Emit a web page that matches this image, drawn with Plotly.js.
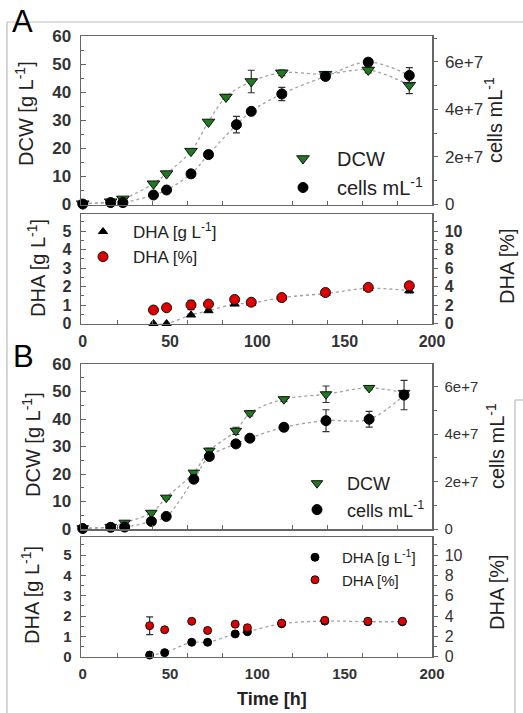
<!DOCTYPE html>
<html><head><meta charset="utf-8">
<script src="https://cdn.plot.ly/plotly-3.0.1.min.js"></script>
<style>html,body{margin:0;padding:0;background:#fff}#chart{width:523px;height:713px}</style>
</head><body><div id="chart"></div>
<script>
// ---------- DATA ----------
// Panel A, upper: DCW [g/L] and cells/mL vs time [h]
const tDcwA   = [0, 16, 23, 40.5, 48, 62, 72, 82, 96.5, 114, 139, 163.5, 187];
const dcwA    = [0.3, 1.0, 2.0, 7.4, 11.0, 19.0, 29.4, 38.3, 43.8, 46.9, 46.4, 47.9, 42.5];
const dcwErrA = [0.3, 0.5, 0.5, 0.5, 0.5, 0.5, 0.6, 0.8, 4.0, 1.0, 0.8, 1.0, 3.0];
const tCellsA   = [0, 16, 23, 40.5, 48, 62, 72, 88, 96.5, 114, 139, 163.5, 187];
const cellsA    = [0.2e6, 0.8e6, 0.8e6, 4.0e6, 6.1e6, 12.9e6, 21.0e6, 33.6e6, 39.2e6, 46.5e6, 53.9e6, 59.9e6, 54.3e6];
const cellsErrA = [0, 0.5e6, 0.5e6, 0.5e6, 0.5e6, 0.5e6, 0.5e6, 3.5e6, 1.0e6, 2.8e6, 1.0e6, 1.5e6, 3.3e6];
// Panel A, lower: DHA [g/L] and DHA [%]
const tDhaA     = [40.5, 48, 62, 72, 87, 96.5, 114, 139, 163.5, 187];
const dhaGA     = [0.0, 0.0, 0.46, 0.69, 1.05, 1.1, 1.4, 1.62, 1.9, 1.77];
const dhaGErrA  = [0, 0, 0.05, 0.05, 0.05, 0.05, 0.05, 0.05, 0.05, 0.12];
const dhaPA     = [1.46, 1.7, 2.0, 2.1, 2.6, 2.3, 2.8, 3.35, 3.9, 4.08];
const dhaPErrA  = [0.1, 0.1, 0.5, 0.2, 0.25, 0.25, 0.1, 0.1, 0.1, 0.15];
// Panel B, upper
const tB        = [0, 16, 24, 39.3, 47.8, 63.6, 72.5, 87.7, 95.7, 115.2, 139.3, 164, 184];
const dcwB      = [0.3, 0.8, 2.3, 5.9, 11.4, 20.5, 28.5, 35.7, 42.1, 47.2, 49.0, 51.3, 49.5];
const dcwErrB   = [0.3, 0.3, 0.5, 0.5, 0.5, 0.6, 0.8, 1.3, 1.0, 0.8, 3.0, 0.6, 0.8];
const cellsB    = [0.2e6, 0.7e6, 0.8e6, 3.2e6, 5.3e6, 21.0e6, 30.6e6, 35.9e6, 38.3e6, 42.9e6, 45.7e6, 46.3e6, 56.5e6];
const cellsErrB = [0, 0.3e6, 0.3e6, 0.5e6, 0.5e6, 0.5e6, 0.8e6, 0.8e6, 1.0e6, 1.5e6, 4.6e6, 3.3e6, 6.2e6];
// Panel B, lower
const tDhaB     = [38.3, 46.9, 62.4, 71.5, 87.3, 94.3, 113.9, 138.6, 163.3, 183];
const dhaGB     = [0.08, 0.2, 0.71, 0.71, 1.12, 1.23, 1.62, 1.75, 1.72, 1.72];
const dhaPB     = [3.05, 2.65, 3.48, 2.58, 3.2, 2.85, 3.3, 3.58, 3.48, 3.48];
const dhaPErrB  = [0.87, 0.05, 0.05, 0.05, 0.05, 0.05, 0.1, 0.1, 0.05, 0.05];
// Tick labels
const cellTickVals = [0, 2e7, 4e7, 6e7];
const cellTickText = ['0', '2e+7', '4e+7', '6e+7'];

// ---------- LAYOUT HELPERS ----------
const W = 523, H = 713;
const px = x => x / W, py = y => 1 - y / H;
const FONT = 'Liberation Sans, Arial, sans-serif';
const AX = '#666', TXT = '#333';
const xDom = [px(81), px(432)];

function xAxis(anchor, showLabels, size) {
  return {domain: xDom, anchor, range: [-1, 200], showline: true, linecolor: AX, linewidth: 1.5,
    mirror: true, ticks: '', dtick: 50, showticklabels: showLabels, ticklabelstandoff: 3,
    tickfont: {family: FONT, size, color: TXT, weight: 'bold'},
    minor: {dtick: 20, ticks: 'inside', ticklen: 4, tickcolor: AX, tickwidth: 1},
    showgrid: false, zeroline: false, fixedrange: true};
}
function yLeft(anchor, dom, range, dtick, mdtick, size) {
  return {domain: dom, anchor, range, dtick, showline: true, linecolor: AX, linewidth: 1.5, mirror: true,
    ticks: 'inside', ticklen: 5, tickcolor: AX, ticklabelstandoff: 5,
    minor: {dtick: mdtick, ticks: 'inside', ticklen: 3, tickcolor: AX},
    tickfont: {family: FONT, size, color: TXT, weight: 'bold'},
    showgrid: false, zeroline: false, fixedrange: true};
}
function yRight(anchor, over, range, extra, size, bold) {
  return Object.assign({overlaying: over, anchor, side: 'right', range, showline: true, linecolor: AX,
    linewidth: 1.5, ticks: 'outside', ticklen: 4, tickcolor: AX, ticklabelstandoff: 4,
    tickfont: {family: FONT, size, color: TXT, weight: bold ? 'bold' : 'normal'},
    showgrid: false, zeroline: false, fixedrange: true}, extra);
}

const domAtop = [py(204.5), py(36)];
const domAbot = [py(323.5), py(214)];
const domBtop = [py(529), py(364)];
const domBbot = [py(656.7), py(537)];

const fitLine = {color: '#a3a3a3', width: 1.3, dash: 'dot', shape: 'spline', smoothing: 1};
const errSty = (arr) => ({type: 'data', array: arr, visible: true, color: '#333', thickness: 1.2, width: 3.5});
const green = '#1f7a1f';

const traces = [
  // ---- A upper ----
  {x: tDcwA, y: dcwA, mode: 'lines', line: fitLine, xaxis: 'x', yaxis: 'y', showlegend: false, hoverinfo: 'skip'},
  {x: tCellsA, y: cellsA, mode: 'lines', line: fitLine, xaxis: 'x', yaxis: 'y2', showlegend: false, hoverinfo: 'skip'},
  {x: tDcwA, y: dcwA, name: 'DCW', mode: 'markers', xaxis: 'x', yaxis: 'y', legend: 'legend',
   marker: {symbol: 'triangle-down', size: 11, color: green, line: {color: '#111', width: 1}},
   error_y: errSty(dcwErrA), cliponaxis: false},
  {x: tCellsA, y: cellsA, name: 'cells mL<sup>-1</sup>', mode: 'markers', xaxis: 'x', yaxis: 'y2', legend: 'legend',
   marker: {symbol: 'circle', size: 10, color: '#000', line: {color: '#000', width: 1}},
   error_y: errSty(cellsErrA), cliponaxis: false},
  // ---- A lower ----
  {x: tDhaA, y: dhaGA, mode: 'lines', line: fitLine, xaxis: 'x2', yaxis: 'y3', showlegend: false, hoverinfo: 'skip'},
  {x: tDhaA, y: dhaGA, name: 'DHA [g L<sup>-1</sup>]', mode: 'markers', xaxis: 'x2', yaxis: 'y3', legend: 'legend2',
   marker: {symbol: 'triangle-up', size: 8, color: '#000', line: {color: '#000', width: 1}},
   error_y: errSty(dhaGErrA), cliponaxis: false},
  {x: tDhaA, y: dhaPA, name: 'DHA [%]', mode: 'markers', xaxis: 'x2', yaxis: 'y4', legend: 'legend2',
   marker: {symbol: 'circle', size: 10, color: '#e00000', line: {color: '#111', width: 1}},
   error_y: errSty(dhaPErrA), cliponaxis: false},
  // ---- B upper ----
  {x: tB, y: dcwB, mode: 'lines', line: fitLine, xaxis: 'x3', yaxis: 'y5', showlegend: false, hoverinfo: 'skip'},
  {x: tB, y: cellsB, mode: 'lines', line: fitLine, xaxis: 'x3', yaxis: 'y6', showlegend: false, hoverinfo: 'skip'},
  {x: tB, y: dcwB, name: 'DCW', mode: 'markers', xaxis: 'x3', yaxis: 'y5', legend: 'legend3',
   marker: {symbol: 'triangle-down', size: 10, color: green, line: {color: '#111', width: 1}},
   error_y: errSty(dcwErrB), cliponaxis: false},
  {x: tB, y: cellsB, name: 'cells mL<sup>-1</sup>', mode: 'markers', xaxis: 'x3', yaxis: 'y6', legend: 'legend3',
   marker: {symbol: 'circle', size: 10, color: '#000', line: {color: '#000', width: 1}},
   error_y: errSty(cellsErrB), cliponaxis: false},
  // ---- B lower ----
  {x: tDhaB, y: dhaGB, mode: 'lines', line: fitLine, xaxis: 'x4', yaxis: 'y7', showlegend: false, hoverinfo: 'skip'},
  {x: tDhaB, y: dhaGB, name: 'DHA [g L<sup>-1</sup>]', mode: 'markers', xaxis: 'x4', yaxis: 'y7', legend: 'legend4',
   marker: {symbol: 'circle', size: 8, color: '#000', line: {color: '#000', width: 1}}, cliponaxis: false},
  {x: tDhaB, y: dhaPB, name: 'DHA [%]', mode: 'markers', xaxis: 'x4', yaxis: 'y8', legend: 'legend4',
   marker: {symbol: 'circle', size: 8, color: '#e00000', line: {color: '#111', width: 1}},
   error_y: errSty(dhaPErrB), cliponaxis: false}
];

function legendAt(xPx, yPx, size, iw) {
  return {x: px(xPx), y: py(yPx), xanchor: 'left', yanchor: 'top', bgcolor: 'rgba(0,0,0,0)',
    borderwidth: 0, itemwidth: iw, font: {family: FONT, size, color: '#222'}, tracegroupgap: 0, itemclick: false};
}
function title(text, xPx, yPx, size) {
  return {text, x: px(xPx), y: py(yPx), xref: 'paper', yref: 'paper', xanchor: 'center', yanchor: 'middle',
    textangle: -90, showarrow: false, font: {family: FONT, size: size || 20, color: '#222'}};
}
function frame(x0, y0, x1, y1) {
  return {type: 'line', xref: 'paper', yref: 'paper', x0: px(x0), y0: py(y0), x1: px(x1), y1: py(y1),
    line: {color: '#bdbdbd', width: 1.2}};
}

const layout = {
  width: W, height: H, margin: {l: 0, r: 0, t: 0, b: 0},
  paper_bgcolor: '#fff', plot_bgcolor: 'rgba(0,0,0,0)', font: {family: FONT},
  showlegend: true,
  xaxis:  xAxis('y', false, 16),
  xaxis2: xAxis('y3', true, 16),
  xaxis3: xAxis('y5', false, 15),
  xaxis4: xAxis('y7', true, 15),
  yaxis:  yLeft('x', domAtop, [0, 60], 10, 5, 17),
  yaxis2: yRight('x', 'y', [0, 7.09e7], {tickmode: 'array', tickvals: cellTickVals, ticktext: cellTickText,
            minor: {dtick: 1e7, ticks: 'outside', ticklen: 3, tickcolor: AX}}, 17, false),
  yaxis3: yLeft('x2', domAbot, [0, 5.92], 1, 0.5, 16),
  yaxis4: yRight('x2', 'y3', [0, 11.84], {dtick: 2, minor: {dtick: 1, ticks: 'outside', ticklen: 3, tickcolor: AX}}, 16, true),
  yaxis5: yLeft('x3', domBtop, [0, 60], 10, 5, 17),
  yaxis6: yRight('x3', 'y5', [0, 6.96e7], {tickmode: 'array', tickvals: cellTickVals, ticktext: cellTickText,
            minor: {dtick: 1e7, ticks: 'outside', ticklen: 3, tickcolor: AX}}, 15, false),
  yaxis7: yLeft('x4', domBbot, [0, 5.885], 1, 0.5, 15),
  yaxis8: yRight('x4', 'y7', [0, 11.77], {dtick: 2, minor: {dtick: 1, ticks: 'outside', ticklen: 3, tickcolor: AX}}, 16, false),
  legend:  legendAt(269, 139, 20, 58),
  legend2: legendAt(73, 214, 17, 50),
  legend3: legendAt(287, 465, 18, 50),
  legend4: legendAt(288, 541, 15, 44),
  annotations: [
    {text: 'A', x: px(22), y: py(21), xref: 'paper', yref: 'paper', showarrow: false, xanchor: 'center', yanchor: 'middle',
     font: {family: FONT, size: 31, color: '#000'}},
    {text: 'B', x: px(23), y: py(356), xref: 'paper', yref: 'paper', showarrow: false, xanchor: 'center', yanchor: 'middle',
     font: {family: FONT, size: 31, color: '#000'}},
    title('DCW [g L<sup>-1</sup>]', 24, 114),
    title('cells mL<sup>-1</sup>', 493, 120),
    title('DHA [g L<sup>-1</sup>]', 36, 268),
    title('DHA [%]', 507, 266),
    title('DCW [g L<sup>-1</sup>]', 31, 445),
    title('cells mL<sup>-1</sup>', 495, 446),
    title('DHA [g L<sup>-1</sup>]', 30, 595),
    title('DHA [%]', 497, 592),
    {text: 'Time [h]', x: px(271.5), y: py(699), xref: 'paper', yref: 'paper', showarrow: false,
     xanchor: 'center', yanchor: 'middle', font: {family: FONT, size: 18, color: '#222', weight: 'bold'}}
  ],
  shapes: [frame(7, 22, 523, 22), frame(7, 22, 7, 713), frame(515, 400, 515, 713), frame(515, 400, 523, 400)]
};

Plotly.newPlot('chart', traces, layout, {staticPlot: true, displayModeBar: false});
</script></body></html>
